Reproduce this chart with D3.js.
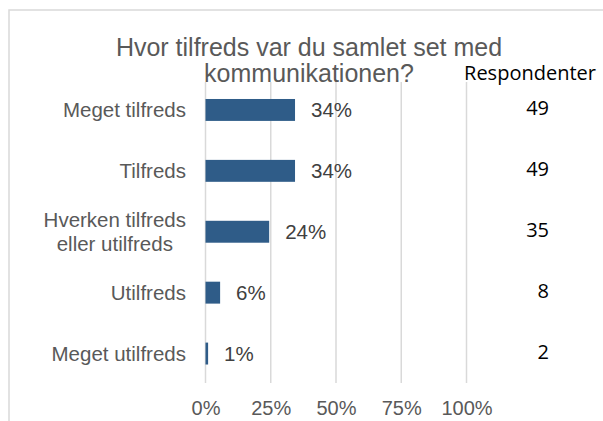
<!DOCTYPE html>
<html>
<head>
<meta charset="utf-8">
<script src="https://cdn.jsdelivr.net/npm/d3@7"></script>
<style>
  body { margin: 0; background: #fff; }
  svg { display: block; }
  text { font-family: "Liberation Sans", Arial, sans-serif; }
</style>
</head>
<body>
<div id="chart"></div>
<script>
// answers, share of respondents (%) and respondent counts
var categories = ["Meget tilfreds", "Tilfreds", "Hverken tilfreds\neller utilfreds", "Utilfreds", "Meget utilfreds"];
var shares = [34.3, 34.3, 24.4, 5.6, 1.0];
var respondents = [49, 49, 35, 8, 2];
var xTicks = [0, 25, 50, 75, 100];
var titleLines = ["Hvor tilfreds var du samlet set med", "kommunikationen?"];
var countHeader = "Respondenter";

var width = 603, height = 421;
var grey = "#595959";

var svg = d3.select("#chart").append("svg")
    .attr("width", width).attr("height", height);

// chart area frame (runs off the right and bottom edge)
svg.append("rect")
    .attr("x", 9).attr("y", 10)
    .attr("width", width + 20).attr("height", height + 20)
    .attr("fill", "#fff").attr("stroke", "#d9d9d9").attr("stroke-width", 1.5);

var x = d3.scaleLinear().domain([0, 100]).range([205.5, 466.5]);
var y = d3.scaleBand().domain(categories).range([79.5, 384]).paddingInner(0.64).paddingOuter(0.32);

// vertical gridlines
svg.append("g").selectAll("line").data(xTicks)
    .enter().append("line")
    .attr("x1", function (d) { return x(d); })
    .attr("x2", function (d) { return x(d); })
    .attr("y1", 82).attr("y2", 383)
    .attr("stroke", "#d9d9d9").attr("stroke-width", 1.5);

// tick labels at the bottom
var xAxis = svg.append("g")
    .attr("transform", "translate(0,398)")
    .call(d3.axisBottom(x).tickValues(xTicks).tickSize(0).tickFormat(function (d) { return d + "%"; }));
xAxis.select(".domain").remove();
xAxis.selectAll("text")
    .attr("font-family", "Liberation Sans, Arial, sans-serif")
    .attr("font-size", "20px").attr("fill", grey).attr("dy", "0.71em");

// title
svg.append("g").selectAll("text").data(titleLines)
    .enter().append("text")
    .attr("x", 309).attr("y", function (d, i) { return 55.5 + i * 26; })
    .attr("text-anchor", "middle")
    .attr("font-size", "25px").attr("fill", grey)
    .text(function (d) { return d; });

// bars
svg.append("g").selectAll("rect").data(shares)
    .enter().append("rect")
    .attr("x", x(0))
    .attr("y", function (d, i) { return y(categories[i]); })
    .attr("width", function (d) { return x(d) - x(0); })
    .attr("height", y.bandwidth())
    .attr("fill", "#2f5c88");

// value labels
svg.append("g").selectAll("text").data(shares)
    .enter().append("text")
    .attr("x", function (d) { return x(d) + 16; })
    .attr("y", function (d, i) { return y(categories[i]) + y.bandwidth() / 2 + 7; })
    .attr("font-size", "20.5px").attr("fill", "#404040")
    .text(function (d) { return Math.round(d) + "%"; });

// category labels, multi-line ones centred as a block
var catLabels = svg.append("g").selectAll("text").data(categories)
    .enter().append("text")
    .attr("font-size", "20.5px").attr("fill", grey)
    .each(function (d) {
        var lines = d.split("\n");
        var t = d3.select(this);
        var cy = y(d) + y.bandwidth() / 2;
        lines.forEach(function (line, i) {
            t.append("tspan")
                .attr("y", cy + 7 + (i - (lines.length - 1) / 2) * 24)
                .text(line);
        });
        var maxW = 0;
        t.selectAll("tspan").each(function () {
            maxW = Math.max(maxW, this.getComputedTextLength());
        });
        if (lines.length > 1) {
            t.attr("text-anchor", "middle").selectAll("tspan").attr("x", 186 - maxW / 2);
        } else {
            t.attr("text-anchor", "end").selectAll("tspan").attr("x", 186);
        }
    });

// respondent column
svg.append("text")
    .attr("x", 530).attr("y", 80)
    .attr("text-anchor", "middle")
    .style("font-family", "'Open Sans', sans-serif")
    .attr("font-size", "20px").attr("fill", "#000")
    .text(countHeader);

svg.append("g").selectAll("text").data(respondents)
    .enter().append("text")
    .attr("x", 549)
    .attr("y", function (d, i) { return y(categories[i]) + y.bandwidth() / 2 + 5; })
    .attr("text-anchor", "end")
    .style("font-family", "'Open Sans', sans-serif")
    .attr("font-size", "20px").attr("fill", "#000")
    .text(function (d) { return d; });
</script>
</body>
</html>
